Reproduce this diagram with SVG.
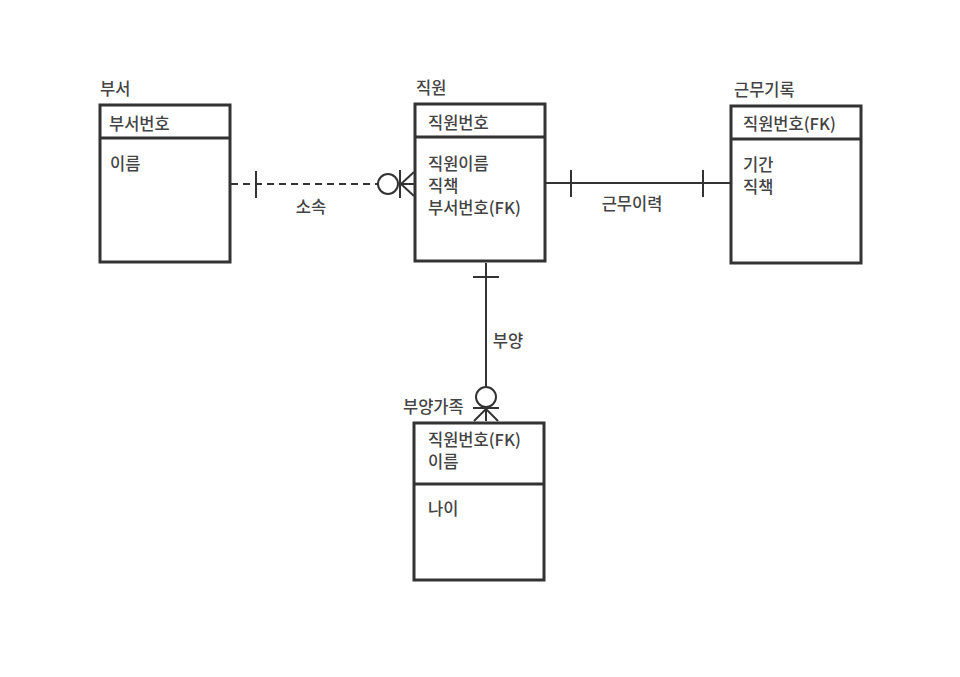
<svg xmlns="http://www.w3.org/2000/svg" width="960" height="677" viewBox="0 0 960 677">
<style>
text{font-family:"Noto Sans CJK KR","Noto Sans",sans-serif;font-size:16.5px;font-weight:500;fill:#444}
.box{fill:#fff;stroke:#333;stroke-width:3}
.sep{stroke:#333;stroke-width:3}
.ln{stroke:#333;stroke-width:2;fill:none}
.dash{stroke-dasharray:7 5}
.c{text-anchor:middle}
</style>
<rect width="960" height="677" fill="#fff"/>
<g id="connectors">
<g id="e-sosok">
<line class="ln dash" x1="231" y1="184" x2="378" y2="184"/>
<line class="ln" x1="256" y1="171" x2="256" y2="198"/>
<circle class="ln" cx="388" cy="184" r="10"/>
<line class="ln" x1="398" y1="184" x2="414" y2="184"/>
<line class="ln" x1="400" y1="170" x2="400" y2="198"/>
<line class="ln" x1="401" y1="184" x2="414" y2="172"/>
<line class="ln" x1="401" y1="184" x2="414" y2="196"/>
<text class="c" x="311" y="213">소속</text>
</g>
<g id="e-geunmu">
<line class="ln" x1="546" y1="183" x2="730" y2="183"/>
<line class="ln" x1="571" y1="170" x2="571" y2="197"/>
<line class="ln" x1="703" y1="170" x2="703" y2="197"/>
<text class="c" x="632" y="210">근무이력</text>
</g>
<g id="e-buyang">
<line class="ln" x1="486" y1="263" x2="486" y2="387"/>
<line class="ln" x1="473" y1="277" x2="499" y2="277"/>
<circle class="ln" cx="486" cy="397" r="10"/>
<line class="ln" x1="486" y1="407" x2="486" y2="421"/>
<line class="ln" x1="473" y1="408" x2="499" y2="408"/>
<line class="ln" x1="486" y1="409" x2="474" y2="421"/>
<line class="ln" x1="486" y1="409" x2="498" y2="421"/>
<text class="c" x="508" y="347">부양</text>
</g>
</g>
<g id="buseo">
<text x="100" y="95">부서</text>
<rect class="box" x="100" y="105" width="130" height="157"/>
<line class="sep" x1="100" y1="138" x2="230" y2="138"/>
<text x="109" y="130">부서번호</text>
<text x="110" y="170">이름</text>
</g>
<g id="jigwon">
<text x="416" y="94">직원</text>
<rect class="box" x="415" y="104" width="130" height="157"/>
<line class="sep" x1="415" y1="137" x2="545" y2="137"/>
<text x="428" y="170">직원이름</text>
<text x="428" y="129">직원번호</text>
<text x="428" y="192">직책</text>
<text x="428" y="214">부서번호(FK)</text>
</g>
<g id="geunmugirok">
<text x="734" y="96">근무기록</text>
<rect class="box" x="731" y="106" width="130" height="157"/>
<line class="sep" x1="731" y1="139" x2="861" y2="139"/>
<text x="743" y="130">직원번호(FK)</text>
<text x="743" y="171">기간</text>
<text x="743" y="193">직책</text>
</g>
<g id="buyanggajok">
<text x="403" y="413">부양가족</text>
<rect class="box" x="414" y="423" width="130" height="157"/>
<line class="sep" x1="414" y1="484" x2="544" y2="484"/>
<text x="428" y="446">직원번호(FK)</text>
<text x="428" y="468">이름</text>
<text x="428" y="515">나이</text>
</g>
</svg>
